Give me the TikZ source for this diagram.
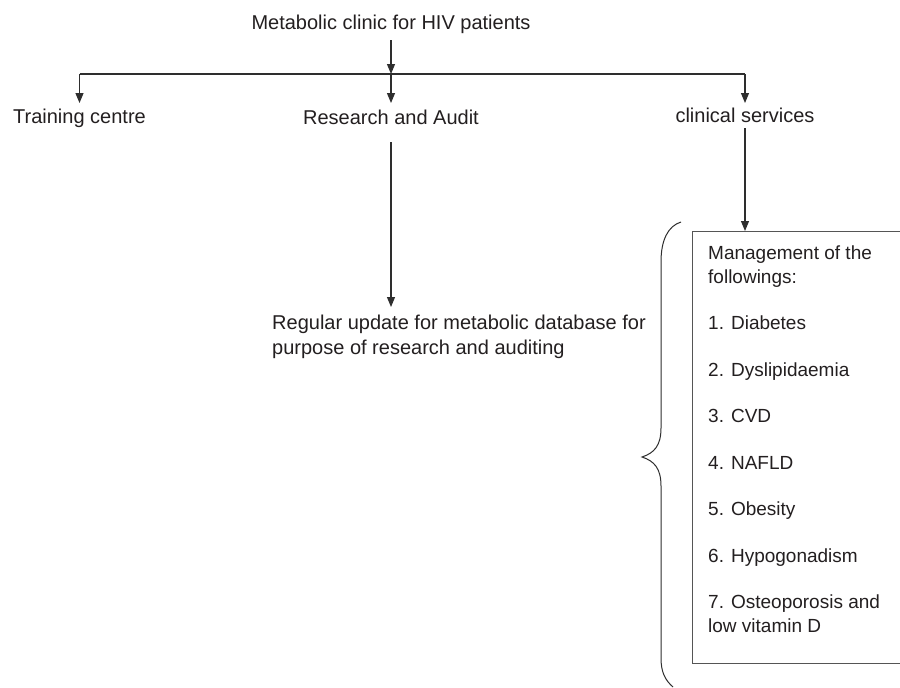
\documentclass[tikz,border=0pt]{standalone}
\usepackage{fontspec}
\setmainfont{Liberation Sans}
\usetikzlibrary{arrows.meta}
\definecolor{ink}{HTML}{231F20}
\definecolor{linec}{HTML}{2E2E2E}
\definecolor{boxc}{HTML}{555555}
\tikzset{
  arr/.style={draw=linec, line width=1.1pt, -{Triangle[width=8pt,length=10pt]}},
  ln/.style={draw=linec, line width=1.1pt},
  lbl/.style={text=ink, font=\fontsize{20}{25}\selectfont, inner xsep=0pt, inner ysep=6pt},
  itm/.style={text=ink, font=\fontsize{19}{24}\selectfont, inner sep=0pt, anchor=base west},
}
\begin{document}
\begin{tikzpicture}[x=1pt,y=-1pt]
\useasboundingbox (0,0) rectangle (900,688);
\clip (0,0) rectangle (900,688);
\fill[white] (0,0) rectangle (900,688);

% top
\node[lbl, anchor=base] (top) at (391,30) {Metabolic clinic for HIV patients};
\coordinate (j) at (391,74);
\coordinate (jl) at (79.5,74);
\coordinate (jr) at (745,74);

\node[lbl, anchor=north] (train) at (79.5,103) {Training centre};
\node[lbl, anchor=north, inner ysep=7pt] (res) at (391,103) {Research and Audit};
\node[lbl, anchor=north, inner ysep=5pt] (clin) at (745,103) {clinical services};

\draw[arr] (top.south) -- (j);
\draw[ln] (jl) -- (jr);
\draw[arr] (j) -- (res.north);
\draw[arr] (jl) -- (train.north);
\draw[arr] (jr) -- (clin.north);

% regular update
\node[text=ink, font=\fontsize{20}{25}\selectfont, align=left, inner xsep=0pt, inner ysep=8pt, anchor=north west] (reg) at (272,307)
  {Regular update for metabolic database for\\purpose of research and auditing};
\draw[arr, shorten <=10pt] (res.south) -- (res.south |- reg.north);

% box
\node[draw=boxc, line width=1.1pt, minimum width=260pt, minimum height=432pt, inner sep=0pt, anchor=north west] (box) at (692,231) {};
\draw[arr] (clin.south) -- (clin.south |- box.north);

\node[itm] (m1) at (708,259) {Management of the};
\node[itm] (m2) at (708,283) {followings:};
\node[itm] (m3) at (708,329.5) {1. Diabetes};
\node[itm] (m4) at (708,376) {2. Dyslipidaemia};
\node[itm] (m5) at (708,422.5) {3. CVD};
\node[itm] (m6) at (708,469) {4. NAFLD};
\node[itm] (m7) at (708,515.5) {5. Obesity};
\node[itm] (m8) at (708,562) {6. Hypogonadism};
\node[itm] (m9) at (708,608.5) {7. Osteoporosis and};
\node[itm] (m10) at (708,632.5) {low vitamin D};

% brace
\draw[ln, line width=1pt] (681,222) .. controls (668,226) and (661,240) .. (661,262)
  -- (661,428) .. controls (661,446) and (654,453) .. (642,457)
  .. controls (654,461) and (661,468) .. (661,486)
  -- (661,658) .. controls (661,672) and (665,680) .. (673,687);
\end{tikzpicture}
\end{document}
